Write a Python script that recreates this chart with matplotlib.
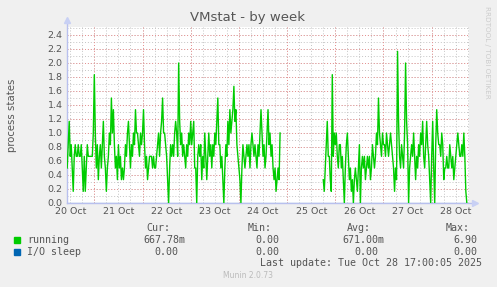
import numpy as np
import pandas as pd
import matplotlib
matplotlib.use("Agg")
import matplotlib.pyplot as plt
from matplotlib.patches import Rectangle

# running processes, in sixths (30 min averages of 5 min samples)
seg1_start = "2025-10-20 10:30"
seg1_sixths = [
    3, 5, 7, 4, 5, 3, 1, 4, 5, 4, 4, 5, 4, 4, 5, 3, 1, 4, 1, 3,
    5, 4, 4, 4, 4, 4, 6, 11, 6, 3, 5, 2, 4, 5, 3, 5, 7, 4, 3, 1,
    3, 4, 6, 5, 9, 6, 8, 5, 3, 4, 2, 5, 3, 4, 2, 3, 2, 3, 5, 4,
    6, 7, 5, 3, 5, 4, 6, 5, 8, 6, 6, 5, 4, 6, 5, 6, 8, 5, 3, 4,
    2, 3, 4, 4, 4, 3, 4, 3, 3, 4, 5, 6, 4, 6, 7, 9, 6, 6, 5, 4,
    2, 0, 3, 5, 4, 5, 4, 6, 7, 6, 4, 12, 7, 5, 6, 4, 5, 4, 3, 5,
    4, 6, 5, 7, 5, 6, 7, 3, 3, 0, 4, 5, 4, 5, 2, 4, 3, 6, 4, 2,
    4, 6, 4, 5, 3, 5, 4, 6, 5, 7, 9, 5, 5, 3, 4, 2, 0, 3, 5, 4,
    7, 5, 8, 6, 7, 8, 10, 7, 8, 5, 4, 3, 2, 0, 3, 5, 4, 3, 4, 5,
    4, 5, 3, 5, 6, 5, 4, 5, 4, 3, 5, 4, 6, 8, 6, 4, 5, 3, 4, 6,
    8, 5, 6, 4, 5, 3, 2, 3, 1, 2, 3, 2, 6,
]
seg2_start = "2025-10-25 18:00"
seg2_sixths = [
    2, 1, 3, 5, 7, 4, 4, 2, 1, 11, 4, 6, 5, 6, 4, 3, 5, 5, 3, 4,
    2, 0, 3, 5, 6, 4, 2, 3, 1, 2, 0, 2, 3, 2, 1, 3, 5, 0, 3, 4,
    3, 4, 2, 3, 4, 3, 4, 2, 3, 5, 4, 3, 4, 6, 5, 9, 6, 5, 4, 6,
    5, 5, 4, 6, 5, 4, 5, 6, 5, 4, 3, 1, 3, 2, 13, 7, 4, 3, 5, 4,
    3, 6, 12, 7, 5, 0, 3, 4, 5, 4, 6, 4, 2, 4, 3, 5, 4, 6, 5, 7,
    4, 3, 5, 7, 5, 4, 2, 0, 4, 7, 3, 0, 5, 8, 6, 5, 5, 4, 6, 5,
    2, 3, 3, 4, 3, 3, 5, 4, 3, 4, 2, 3, 4, 5, 6, 5, 4, 4, 5, 4,
    6, 4, 1, 0,
]
day_labels = ["20 Oct", "21 Oct", "22 Oct", "23 Oct", "24 Oct",
              "25 Oct", "26 Oct", "27 Oct", "28 Oct"]
legend_names = ["running", "I/O sleep"]
legend_colors = ["#00cc00", "#0066b3"]
cur_vals = ["667.78m", "0.00"]
min_vals = ["0.00", "0.00"]
avg_vals = ["671.00m", "0.00"]
max_vals = ["6.90", "0.00"]

t0 = pd.Timestamp("2025-10-20 00:00")
def to_days(start, n):
    t = pd.date_range(start, periods=n, freq="30min")
    return ((t - t0) / pd.Timedelta(days=1)).to_numpy()

x1 = to_days(seg1_start, len(seg1_sixths))
x2 = to_days(seg2_start, len(seg2_sixths))
x = np.concatenate([x1, [np.nan], x2])
running = np.concatenate([np.array(seg1_sixths) / 6, [np.nan], np.array(seg2_sixths) / 6])

W, H = 497, 287
fig = plt.figure(figsize=(W / 100, H / 100), dpi=100)
fig.patch.set_facecolor("#f0f0f0")
ax = fig.add_axes([66.7 / W, 1 - 203 / H, 402.3 / W, 176.4 / H])
ax.set_facecolor("white")
ax.set_xlim(0.427, 8.774)
ax.set_ylim(0, 2.52)

# grid: grey minor, red major
dot = (0, (1, 2))
for v in np.arange(0.1, 2.55, 0.1):
    ax.axhline(v, color="#c4c4c4", lw=0.7, ls=dot, zorder=0)
for v in np.arange(0.2, 2.45, 0.2):
    ax.axhline(v, color="#e89090", lw=0.7, ls=dot, zorder=0)
for v in np.arange(0.5, 8.8, 0.25):
    ax.axvline(v, color="#c4c4c4", lw=0.7, ls=dot, zorder=0)
for v in range(1, 9):
    ax.axvline(v, color="#e89090", lw=0.7, ls=dot, zorder=0)

ax.plot(x, running, color=legend_colors[0], lw=1.0, zorder=3)
ax.plot([x1[0], x2[-1]], [0, 0], color=legend_colors[1], lw=1.0, alpha=0.35, zorder=2)

for s in ax.spines.values():
    s.set_visible(False)
ax.plot([0, 0], [0, 1.03], transform=ax.transAxes, color="#b8c0ee", lw=1, clip_on=False)
ax.plot([0, 1.012], [0, 0], transform=ax.transAxes, color="#b8c0ee", lw=1, clip_on=False)
ax.plot([0], [1.04], transform=ax.transAxes, marker="^", ms=4, color="#c8d0f4", clip_on=False)
ax.plot([1.014], [0], transform=ax.transAxes, marker=">", ms=4, color="#c8d0f4", clip_on=False)

ax.set_yticks(np.arange(0, 2.45, 0.2))
ax.set_yticklabels([f"{v:.1f}" for v in np.arange(0, 2.45, 0.2)])
ax.set_xticks(np.arange(len(day_labels)) + 0.5)
ax.set_xticklabels(day_labels)
ax.tick_params(axis="both", length=0, labelsize=6.8, labelcolor="#555555", pad=3)

fig.text(12 / W, 1 - 115 / H, "process states", rotation=90, ha="center", va="center",
         fontsize=7.3, color="#555555")
fig.text(248 / W, 1 - 18 / H, "VMstat - by week", ha="center", va="center",
         fontsize=9.5, color="#555555")
fig.text(487 / W, 1 - 6 / H, "RRDTOOL / TOBI OETIKER", rotation=270, ha="center",
         va="top", fontsize=5.2, color="#cccccc")

mono = dict(family="DejaVu Sans Mono", fontsize=7.2, color="#555555", va="center")
for lab, xr in zip(["Cur:", "Min:", "Avg:", "Max:"], [170, 272, 371, 470]):
    fig.text(xr / W, 1 - 228 / H, lab, ha="right", **mono)
rows_y = [240, 252]
for i, yy in enumerate(rows_y):
    fig.add_artist(Rectangle((14 / W, 1 - (yy + 3) / H), 6 / W, 6 / H,
                             color=legend_colors[i], transform=fig.transFigure))
    fig.text(27 / W, 1 - yy / H, legend_names[i], ha="left", **mono)
    cur_r = 185 if cur_vals[i].endswith("m") else 178
    avg_r = 384 if avg_vals[i].endswith("m") else 378
    fig.text(cur_r / W, 1 - yy / H, cur_vals[i], ha="right", **mono)
    fig.text(279 / W, 1 - yy / H, min_vals[i], ha="right", **mono)
    fig.text(avg_r / W, 1 - yy / H, avg_vals[i], ha="right", **mono)
    fig.text(477 / W, 1 - yy / H, max_vals[i], ha="right", **mono)
fig.text(482 / W, 1 - 263 / H, "Last update: Tue Oct 28 17:00:05 2025", ha="right", **mono)
fig.text(248 / W, 1 - 276 / H, "Munin 2.0.73", ha="center", va="center",
         fontsize=5.5, color="#bbbbbb")

fig.savefig("out.png", dpi=100, facecolor=fig.get_facecolor())
